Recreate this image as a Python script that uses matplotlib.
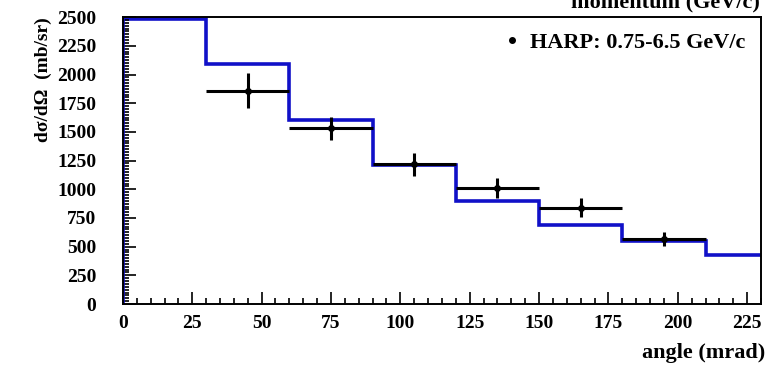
import numpy as np
import matplotlib.pyplot as plt
from matplotlib.ticker import MultipleLocator
from matplotlib.lines import Line2D

plt.rcParams['font.family'] = ['Liberation Serif', 'DejaVu Serif']
plt.rcParams['font.weight'] = 'bold'

# model histogram (blue)
bin_edges = [0, 30, 60, 90, 120, 150, 180, 210, 230]
model = [2480, 2090, 1600, 1210, 900, 690, 550, 430]

# HARP data points
angle = [45, 75, 105, 135, 165, 195]
angle_err = [15, 15, 15, 15, 15, 15]
xsec = [1860, 1530, 1220, 1010, 840, 570]
xsec_err = [150, 100, 100, 90, 80, 60]

fig = plt.figure(figsize=(7.68, 3.65), dpi=100)
ax = fig.add_axes([0.160, 0.167, 0.831, 0.786])

ax.stairs(model, bin_edges, color='#1010c8', lw=2.6, baseline=None)
ax.plot([0, 0], [0, model[0]], color='#1010c8', lw=2.6)
ax.errorbar(angle, xsec, xerr=angle_err, yerr=xsec_err, fmt='o', color='black',
            ms=4, lw=2.2, capsize=0)

ax.set_xlim(0, 230)
ax.set_ylim(0, 2500)
ax.xaxis.set_major_locator(MultipleLocator(25))
ax.xaxis.set_minor_locator(MultipleLocator(5))
ax.yaxis.set_major_locator(MultipleLocator(250))
ax.yaxis.set_minor_locator(MultipleLocator(25))
ax.tick_params(which='both', direction='in', top=False, right=False,
               labelsize=14, width=1.2)
ax.tick_params(which='major', length=9)
ax.tick_params(which='minor', length=4)
ax.tick_params(axis='y', which='both', pad=19)
ax.tick_params(axis='x', which='both', pad=8)
for s in ax.spines.values():
    s.set_linewidth(1.4)

ax.set_ylabel('dσ/dΩ  (mb/sr)', fontsize=14, fontweight='bold', loc='top', labelpad=4)
fig.text(0.997, 0.033, 'angle (mrad)', ha='right', va='center', fontsize=16,
         fontweight='bold')
fig.text(0.99, 0.978, 'momentum (GeV/c)', ha='right', va='baseline', fontsize=16,
         fontweight='bold')

handle = Line2D([], [], marker='o', color='black', ls='none', ms=4)
ax.legend([handle], ['HARP: 0.75-6.5 GeV/c'], loc='upper right', frameon=False,
          fontsize=16, handletextpad=0.4, handlelength=0.8, borderaxespad=0.3)

fig.savefig('out.png', dpi=100)
